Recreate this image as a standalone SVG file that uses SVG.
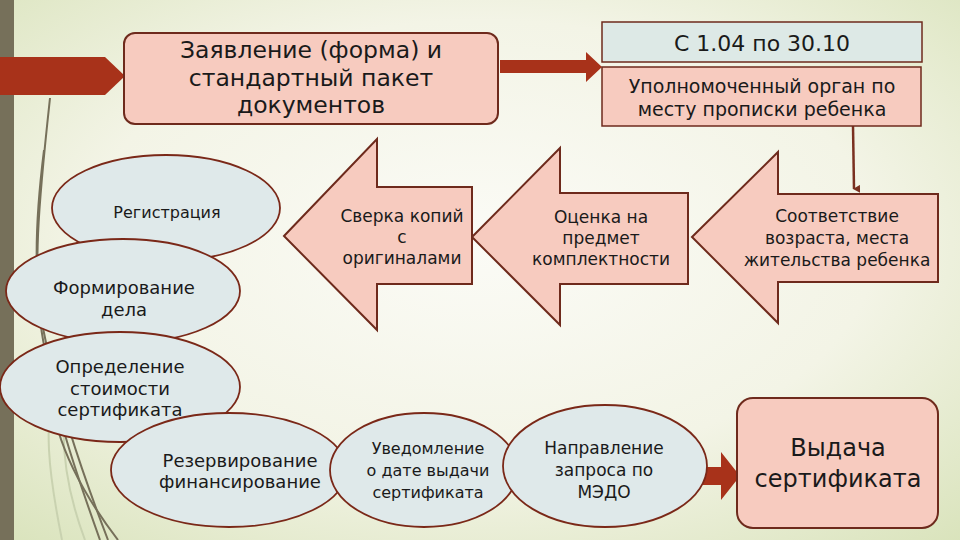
<svg xmlns="http://www.w3.org/2000/svg" width="960" height="540" viewBox="0 0 960 540">
<defs>
<radialGradient id="bg" cx="0.5" cy="0.45" r="0.75">
<stop offset="0" stop-color="#fbfbf6"/>
<stop offset="0.55" stop-color="#f3f4e6"/>
<stop offset="1" stop-color="#d9e3bb"/>
</radialGradient>
<marker id="ah" markerWidth="8" markerHeight="8" refX="4" refY="6" orient="auto" markerUnits="userSpaceOnUse" viewBox="0 0 8 8">
<path d="M0,0 L8,0 L4,7 Z" fill="#7a3020"/>
</marker>
<style>
.pink{fill:#f7cbbf;stroke:#6e2a1c;stroke-width:2}
.pinkthin{fill:#f7cbbf;stroke:#6e2a1c;stroke-width:1.5}
.ell{fill:#dfe9ea;stroke:#7a2818;stroke-width:1.8}
.blk{fill:#a8321a}
.deco{fill:none;stroke:#76705a;stroke-width:2}
.decol{fill:none;stroke:#c9d2b0;stroke-width:2}
text{font-family:"DejaVu Sans","Liberation Sans",sans-serif;fill:#1a1a1a;text-anchor:middle}
.t23{font-size:23.5px}
.t22{font-size:22px}
.t19{font-size:19px}
.t18{font-size:18px}
.t17{font-size:17px}
.t16{font-size:16px}
.t24{font-size:24px}
</style>
</defs>
<rect x="0" y="0" width="960" height="540" fill="url(#bg)"/>
<rect x="0" y="0" width="14" height="540" fill="#76705a"/>
<g id="decoration">
<path class="decol" d="M60,360 C40,420 50,480 62,540"/>
<path class="decol" d="M70,380 C55,440 70,500 85,540"/>
<path class="deco" d="M50,98 C40,190 30,280 45,350 C55,410 75,470 100,540"/>
<path class="deco" d="M44,150 C34,230 32,300 52,365 C64,420 85,480 108,540"/>
<path class="deco" d="M58,430 C70,470 95,510 118,540"/>
</g>
<g id="connectors">
<polygon class="blk" points="0,57 105,57 125,76 105,95 0,95"/>
<polygon class="blk" points="500,60 586,60 586,52 602,67 586,82 586,73 500,73"/>
<line x1="853" y1="126" x2="854" y2="189" stroke="#7a3020" stroke-width="2.5" marker-end="url(#ah)"/>
<polygon class="blk" points="687,467 721,467 721,452 740,476 721,500 721,485 687,485"/>
</g>
<g id="n-zayavlenie">
<rect class="pink" x="124" y="33" width="374" height="91" rx="11"/>
<text class="t23" x="311" y="58">Заявление (форма) и</text>
<text class="t23" x="311" y="86">стандартный пакет</text>
<text class="t23" x="311" y="113">документов</text>
</g>
<g id="n-date">
<rect x="602" y="22" width="320" height="40" fill="#dde9e6" stroke="#6e2a1c" stroke-width="1.5"/>
<text class="t22" x="762" y="51">С 1.04 по 30.10</text>
</g>
<g id="n-organ">
<rect class="pinkthin" x="602" y="67" width="319" height="59"/>
<text class="t19" x="762" y="93">Уполномоченный орган по</text>
<text class="t19" x="762" y="116">месту прописки ребенка</text>
</g>
<g id="n-sootv">
<polygon class="pink" points="692,237 778,152 778,194 938,194 938,282 778,282 778,323"/>
<text class="t17" x="837" y="222">Соответствие</text>
<text class="t17" x="837" y="244">возраста, места</text>
<text class="t17" x="837" y="266">жительства ребенка</text>
</g>
<g id="n-ocenka">
<polygon class="pink" points="472,237 560,148 560,193 688,193 688,284 560,284 560,325"/>
<text class="t17" x="601" y="223">Оценка на</text>
<text class="t17" x="601" y="244">предмет</text>
<text class="t17" x="601" y="265">комплектности</text>
</g>
<g id="n-sverka">
<polygon class="pink" points="284,236 377,139 377,187 472,187 472,284 377,284 377,330"/>
<text class="t17" x="402" y="222">Сверка копий</text>
<text class="t17" x="402" y="243">с</text>
<text class="t17" x="402" y="264">оригиналами</text>
</g>
<g id="n-registr">
<ellipse class="ell" cx="166" cy="208" rx="114" ry="53"/>
<text class="t16" x="167" y="218">Регистрация</text>
</g>
<g id="n-formir">
<ellipse class="ell" cx="123" cy="291" rx="117" ry="52"/>
<text class="t18" x="124" y="294">Формирование</text>
<text class="t18" x="124" y="316">дела</text>
</g>
<g id="n-opred">
<ellipse class="ell" cx="120" cy="387" rx="120" ry="55"/>
<text class="t18" x="120" y="373">Определение</text>
<text class="t18" x="120" y="395">стоимости</text>
<text class="t18" x="120" y="416">сертификата</text>
</g>
<g id="n-rezerv">
<ellipse class="ell" cx="229" cy="470" rx="118" ry="57"/>
<text class="t18" x="240" y="467">Резервирование</text>
<text class="t18" x="240" y="488">финансирование</text>
</g>
<g id="n-uved">
<ellipse class="ell" cx="424" cy="470" rx="94" ry="57"/>
<text class="t16" x="428" y="454">Уведомление</text>
<text class="t16" x="428" y="476">о дате выдачи</text>
<text class="t16" x="428" y="498">сертификата</text>
</g>
<g id="n-naprav">
<ellipse class="ell" cx="605" cy="466" rx="102" ry="61"/>
<text class="t17" x="604" y="454">Направление</text>
<text class="t17" x="604" y="476">запроса по</text>
<text class="t17" x="604" y="498">МЭДО</text>
</g>
<g id="n-vydacha">
<rect class="pink" x="737" y="398" width="201" height="130" rx="16"/>
<text class="t24" x="838" y="456">Выдача</text>
<text class="t24" x="838" y="487">сертификата</text>
</g>
</svg>
